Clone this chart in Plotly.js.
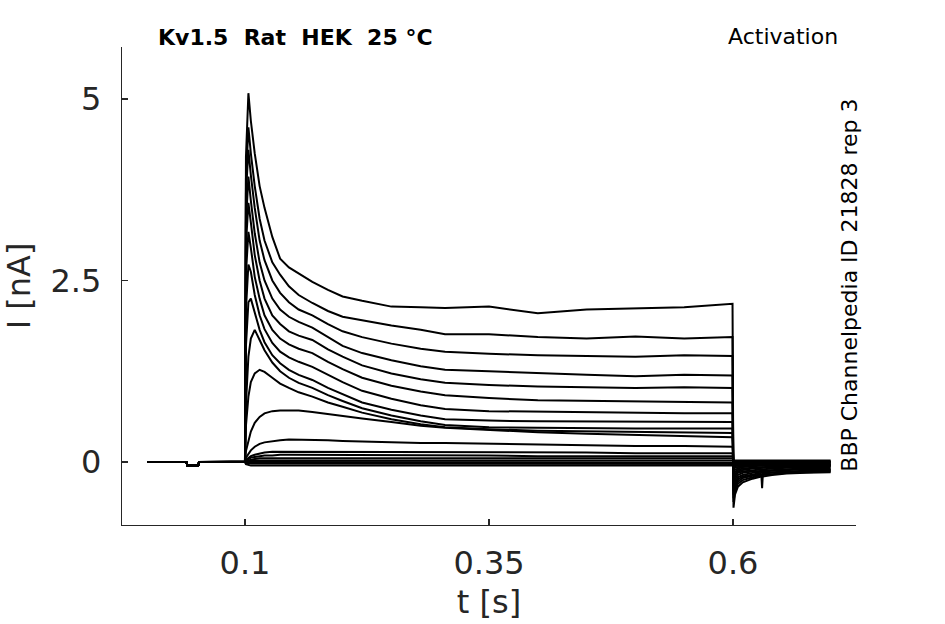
<!DOCTYPE html>
<html>
<head>
<meta charset="utf-8">
<script src="https://cdn.plot.ly/plotly-3.0.1.min.js"></script>
<style>
  html, body { margin: 0; padding: 0; background: #fff; }
  #plot { width: 945px; height: 624px; }
</style>
</head>
<body>
<div id="plot"></div>
<script>
// time grids [s]
const preT = [0, 0.04, 0.041, 0.052, 0.053, 0.0995, 0.1];
const stepT = [0.101, 0.1035, 0.106, 0.11, 0.115, 0.12, 0.128, 0.136, 0.145, 0.155, 0.169, 0.185,
  0.2, 0.22, 0.25, 0.28, 0.305, 0.35, 0.4, 0.45, 0.5, 0.55, 0.5995];
const tailT = [0.6005, 0.602, 0.605, 0.61, 0.62, 0.629, 0.6298, 0.6306, 0.64, 0.655, 0.675, 0.7];

// holding current before the step [nA]
const preI = [0, 0, -0.05, -0.05, 0, 0, 0];

// current during the activation step, one row per sweep [nA]
const stepI = [
  [4.2, 5.08, 4.7, 4.25, 3.8, 3.5, 3.1, 2.8, 2.68, 2.6, 2.48, 2.37, 2.28, 2.22, 2.14, 2.13, 2.12, 2.14, 2.05, 2.1, 2.12, 2.13, 2.18],
  [3.9, 4.61, 4.25, 3.8, 3.35, 3.05, 2.75, 2.58, 2.42, 2.3, 2.19, 2.08, 2.0, 1.95, 1.88, 1.82, 1.76, 1.76, 1.72, 1.7, 1.73, 1.7, 1.72],
  [3.7, 4.3, 3.95, 3.5, 3.05, 2.78, 2.5, 2.33, 2.2, 2.1, 2.02, 1.9, 1.8, 1.72, 1.63, 1.56, 1.52, 1.49, 1.47, 1.46, 1.45, 1.47, 1.46],
  [3.3, 3.93, 3.6, 3.15, 2.75, 2.5, 2.25, 2.1, 2.0, 1.93, 1.85, 1.72, 1.6, 1.5, 1.4, 1.32, 1.27, 1.25, 1.22, 1.2, 1.18, 1.2, 1.19],
  [3.0, 3.57, 3.3, 2.85, 2.5, 2.25, 2.02, 1.9, 1.8, 1.74, 1.68, 1.55, 1.45, 1.33, 1.22, 1.14, 1.09, 1.06, 1.04, 1.03, 1.02, 1.03, 1.02],
  [2.6, 3.17, 2.95, 2.55, 2.25, 2.02, 1.82, 1.7, 1.62, 1.56, 1.5, 1.38, 1.28, 1.16, 1.05, 0.97, 0.92, 0.88, 0.85, 0.84, 0.83, 0.82, 0.82],
  [2.1, 2.72, 2.62, 2.3, 2.02, 1.83, 1.64, 1.52, 1.44, 1.38, 1.31, 1.2, 1.1, 0.98, 0.87, 0.78, 0.73, 0.7, 0.69, 0.68, 0.67, 0.67, 0.67],
  [1.6, 2.2, 2.25, 2.05, 1.82, 1.65, 1.47, 1.36, 1.27, 1.2, 1.13, 1.02, 0.93, 0.82, 0.72, 0.64, 0.59, 0.57, 0.56, 0.56, 0.55, 0.55, 0.55],
  [0.8, 1.45, 1.7, 1.82, 1.68, 1.54, 1.37, 1.25, 1.16, 1.09, 1.02, 0.92, 0.84, 0.74, 0.64, 0.56, 0.51, 0.48, 0.47, 0.46, 0.46, 0.46, 0.46],
  [0.5, 0.9, 1.1, 1.22, 1.27, 1.24, 1.16, 1.08, 1.02, 0.96, 0.9, 0.82, 0.76, 0.68, 0.59, 0.52, 0.48, 0.45, 0.43, 0.42, 0.41, 0.4, 0.4],
  [0.15, 0.3, 0.42, 0.54, 0.62, 0.67, 0.7, 0.71, 0.71, 0.71, 0.69, 0.66, 0.63, 0.6, 0.55, 0.5, 0.47, 0.44, 0.41, 0.39, 0.37, 0.35, 0.34],
  [0.06, 0.12, 0.16, 0.21, 0.25, 0.27, 0.29, 0.3, 0.31, 0.31, 0.3, 0.3, 0.29, 0.28, 0.27, 0.26, 0.26, 0.25, 0.24, 0.23, 0.22, 0.22, 0.21],
  [0.03, 0.06, 0.08, 0.1, 0.12, 0.13, 0.14, 0.14, 0.14, 0.14, 0.14, 0.14, 0.14, 0.14, 0.14, 0.13, 0.13, 0.13, 0.13, 0.13, 0.12, 0.12, 0.12],
  [0.02, 0.04, 0.06, 0.07, 0.08, 0.09, 0.09, 0.1, 0.1, 0.1, 0.1, 0.1, 0.09, 0.09, 0.09, 0.09, 0.09, 0.09, 0.08, 0.08, 0.08, 0.08, 0.08],
  [0.01, 0.02, 0.03, 0.04, 0.05, 0.05, 0.06, 0.06, 0.06, 0.06, 0.06, 0.06, 0.06, 0.05, 0.05, 0.05, 0.05, 0.05, 0.05, 0.05, 0.05, 0.05, 0.05],
  [0.0, 0.01, 0.02, 0.02, 0.03, 0.03, 0.03, 0.03, 0.03, 0.03, 0.03, 0.03, 0.03, 0.03, 0.03, 0.02, 0.02, 0.02, 0.02, 0.02, 0.02, 0.02, 0.02],
  [0.0, 0.0, 0.0, 0.0, 0.0, 0.0, 0.0, 0.0, 0.0, 0.0, 0.0, 0.0, 0.0, 0.0, 0.0, 0.0, 0.0, 0.0, 0.0, 0.0, 0.0, 0.0, 0.0],
  [-0.02, -0.02, -0.03, -0.03, -0.03, -0.03, -0.03, -0.03, -0.03, -0.03, -0.03, -0.03, -0.03, -0.03, -0.03, -0.03, -0.03, -0.03, -0.03, -0.03, -0.03, -0.03, -0.03],
  [-0.03, -0.04, -0.05, -0.05, -0.05, -0.05, -0.05, -0.05, -0.05, -0.05, -0.05, -0.05, -0.05, -0.05, -0.05, -0.05, -0.05, -0.05, -0.05, -0.05, -0.05, -0.05, -0.05]
];

// tail current after repolarisation, one row per sweep [nA]
const tailI = [
  [-0.63, -0.45, -0.34, -0.28, -0.23, -0.2, -0.2, -0.2, -0.18, -0.16, -0.15, -0.14],
  [-0.55, -0.4, -0.3, -0.25, -0.21, -0.18, -0.18, -0.18, -0.17, -0.15, -0.14, -0.13],
  [-0.5, -0.36, -0.27, -0.22, -0.19, -0.17, -0.36, -0.16, -0.15, -0.14, -0.13, -0.12],
  [-0.45, -0.32, -0.24, -0.2, -0.17, -0.15, -0.15, -0.15, -0.14, -0.13, -0.12, -0.11],
  [-0.4, -0.28, -0.21, -0.18, -0.15, -0.13, -0.13, -0.13, -0.12, -0.11, -0.1, -0.1],
  [-0.35, -0.24, -0.18, -0.15, -0.13, -0.12, -0.12, -0.12, -0.11, -0.1, -0.09, -0.09],
  [-0.3, -0.2, -0.15, -0.13, -0.11, -0.1, -0.1, -0.1, -0.09, -0.08, -0.08, -0.07],
  [-0.25, -0.17, -0.13, -0.11, -0.09, -0.08, -0.08, -0.08, -0.07, -0.07, -0.06, -0.06],
  [-0.2, -0.14, -0.11, -0.09, -0.08, -0.07, -0.07, -0.07, -0.06, -0.05, -0.05, -0.05],
  [-0.16, -0.11, -0.09, -0.07, -0.06, -0.05, -0.05, -0.05, -0.05, -0.04, -0.04, -0.04],
  [-0.12, -0.08, -0.07, -0.06, -0.05, -0.04, -0.04, -0.04, -0.04, -0.03, -0.03, -0.03],
  [-0.08, -0.06, -0.05, -0.04, -0.03, -0.03, -0.03, -0.03, -0.03, -0.02, -0.02, -0.02],
  [-0.04, -0.02, -0.01, 0.0, 0.0, 0.0, 0.0, 0.0, 0.0, 0.0, 0.0, 0.0],
  [0.02, 0.02, 0.02, 0.02, 0.02, 0.02, 0.02, 0.02, 0.02, 0.02, 0.02, 0.02],
  [0.01, 0.01, 0.01, 0.01, 0.01, 0.01, 0.01, 0.01, 0.01, 0.01, 0.01, 0.01],
  [0.0, 0.0, 0.0, 0.0, 0.0, 0.0, 0.0, 0.0, 0.0, 0.0, 0.0, 0.0],
  [-0.01, -0.01, -0.01, -0.01, -0.01, -0.01, -0.01, -0.01, -0.01, -0.01, -0.01, -0.01],
  [-0.03, -0.03, -0.03, -0.03, -0.03, -0.03, -0.03, -0.03, -0.03, -0.03, -0.03, -0.03],
  [-0.05, -0.05, -0.05, -0.05, -0.05, -0.05, -0.05, -0.05, -0.05, -0.05, -0.05, -0.05]
];

const xTicks = [0.1, 0.35, 0.6];
const xTickText = ['0.1', '0.35', '0.6'];
const yTicks = [0, 2.5, 5];
const yTickText = ['0', '2.5', '5'];

// double spaces kept as no-break spaces so they are not collapsed
const titleText = 'Kv1.5\u00a0\u00a0Rat\u00a0\u00a0HEK\u00a0\u00a025\u00a0°C';
const protocolText = 'Activation';
const sourceText = 'BBP Channelpedia ID 21828 rep 3';

const FONT = 'DejaVu Sans, sans-serif';
const AXIS_GREY = '#262626';

const traces = stepI.map((row, i) => ({
  type: 'scatter',
  mode: 'lines',
  x: preT.concat(stepT, tailT),
  y: preI.concat(row, tailI[i]),
  line: { color: '#000', width: 2 },
  hoverinfo: 'skip',
  showlegend: false
}));

const axisCommon = {
  showgrid: false,
  zeroline: false,
  showline: true,
  linecolor: AXIS_GREY,
  linewidth: 1.3,
  ticks: 'inside',
  ticklen: 6,
  tickwidth: 1.3,
  tickcolor: AXIS_GREY,
  tickfont: { family: FONT, size: 32, color: AXIS_GREY },
  mirror: false
};

const layout = {
  width: 945,
  height: 624,
  margin: { l: 122, r: 89, t: 47, b: 99 },
  paper_bgcolor: '#fff',
  plot_bgcolor: '#fff',
  xaxis: Object.assign({}, axisCommon, {
    range: [-0.026, 0.726],
    tickvals: xTicks,
    ticktext: xTickText,
    ticklabelstandoff: 9,
    title: { text: 't [s]', font: { family: FONT, size: 32, color: AXIS_GREY }, standoff: 10 }
  }),
  yaxis: Object.assign({}, axisCommon, {
    range: [-0.868, 5.716],
    tickvals: yTicks,
    ticktext: yTickText,
    ticklabelstandoff: 13,
    title: { text: 'I [nA]', font: { family: FONT, size: 32, color: AXIS_GREY }, standoff: 20 }
  }),
  annotations: [
    {
      text: '<b>' + titleText + '</b>', xref: 'paper', yref: 'paper',
      x: 0.046, y: 1.0, xanchor: 'left', yanchor: 'bottom', yshift: -5,
      showarrow: false, font: { family: FONT, size: 22, color: '#000' }
    },
    {
      text: protocolText, xref: 'paper', yref: 'paper',
      x: 0.978, y: 1.0, xanchor: 'right', yanchor: 'bottom', yshift: -4,
      showarrow: false, font: { family: FONT, size: 22, color: '#000' }
    },
    {
      text: sourceText, xref: 'paper', yref: 'paper',
      x: 0.99, y: 0.502, xanchor: 'center', yanchor: 'middle', textangle: -90,
      showarrow: false, font: { family: FONT, size: 22, color: '#000' }
    }
  ]
};

Plotly.newPlot('plot', traces, layout, { staticPlot: true, displayModeBar: false });
</script>
</body>
</html>
